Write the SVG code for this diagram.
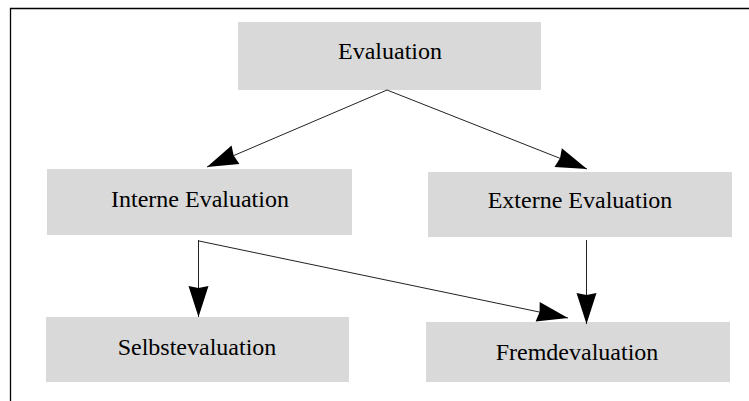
<svg xmlns="http://www.w3.org/2000/svg" width="749" height="401" viewBox="0 0 749 401">
<style>
.box{fill:#d9d9d9}
.lbl{font-family:"Liberation Serif","Times New Roman",serif;font-size:24px;fill:#000;text-anchor:middle}
.edge{stroke:#222;stroke-width:1;fill:none;marker-end:url(#ah)}
.frame{stroke:#000;stroke-width:1.3;fill:none}
</style>
<defs>
<marker id="ah" markerUnits="userSpaceOnUse" markerWidth="33" markerHeight="22" refX="31" refY="10" orient="auto" overflow="visible">
<path d="M0,0 L31,10 L0,20 L2,10 z" fill="#000"/>
</marker>
</defs>
<rect width="749" height="401" fill="#fff"/>
<path class="frame" d="M10.5,401 V8.5 H749"/>
<g id="n-evaluation"><rect class="box" x="238" y="22" width="303" height="68"/><text class="lbl" x="390" y="59">Evaluation</text></g>
<g id="n-interne"><rect class="box" x="47" y="169" width="305" height="66"/><text class="lbl" x="200" y="207">Interne Evaluation</text></g>
<g id="n-externe"><rect class="box" x="428" y="172" width="304" height="65"/><text class="lbl" x="580" y="208">Externe Evaluation</text></g>
<g id="n-selbst"><rect class="box" x="46" y="317" width="303" height="65"/><text class="lbl" x="197" y="355">Selbstevaluation</text></g>
<g id="n-fremd"><rect class="box" x="426" y="322" width="304" height="60"/><text class="lbl" x="577" y="360">Fremdevaluation</text></g>
<g id="connectors">
<line class="edge" x1="387" y1="90" x2="207" y2="167"/>
<line class="edge" x1="387" y1="90" x2="587" y2="169"/>
<line class="edge" x1="198.5" y1="240" x2="198.5" y2="317"/>
<line class="edge" x1="199" y1="241" x2="568" y2="318"/>
<line class="edge" x1="586.5" y1="240" x2="586.5" y2="324"/>
</g>
</svg>
